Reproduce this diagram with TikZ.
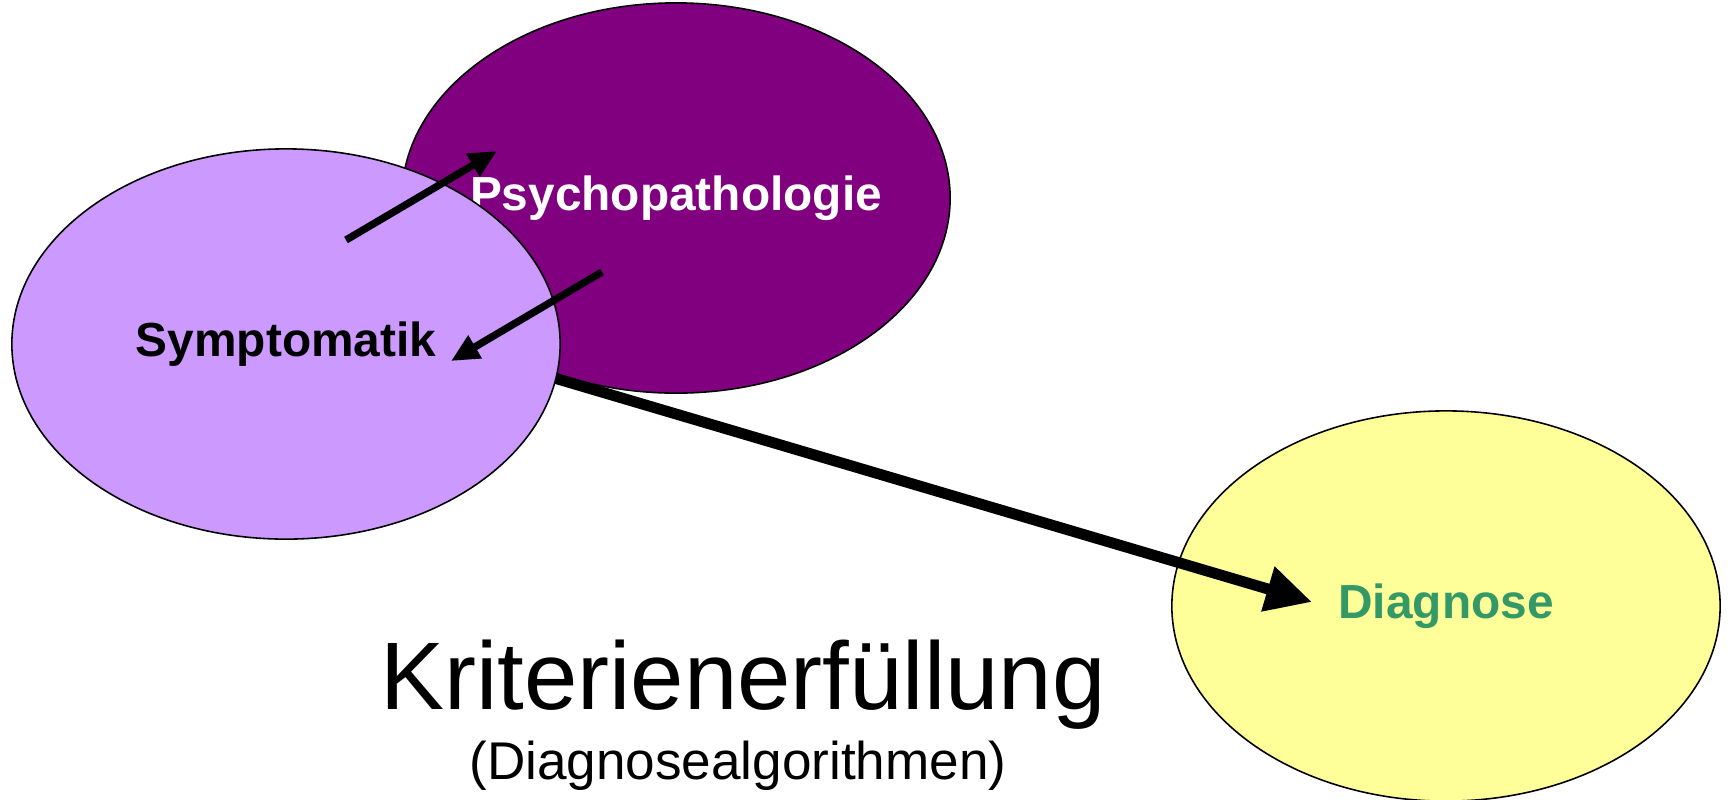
\documentclass[tikz,border=0pt]{standalone}
\usepackage{fontspec}
\setmainfont{Liberation Sans}
\usetikzlibrary{shapes.geometric,arrows.meta}
\definecolor{darkpurple}{HTML}{800080}
\definecolor{lightpurple}{HTML}{CC99FF}
\definecolor{paleyellow}{HTML}{FFFF99}
\definecolor{diaggreen}{HTML}{339966}
\tikzset{
  blob/.style={ellipse, draw=black, line width=0.45pt, inner sep=0pt,
    minimum width=5.48cm, minimum height=3.9cm, font=\fontsize{13.6}{16}\selectfont\bfseries},
  smallarrow/.style={line width=2.1pt, -{Triangle[length=0.28cm,width=0.25cm]}},
  bigarrow/.style={line width=3.1pt, -{Triangle[length=0.46cm,width=0.44cm]}}
}
\begin{document}
\begin{tikzpicture}[x=0.01cm,y=-0.01cm]
\useasboundingbox (0,0) rectangle (1732,799);
% coordinates
\coordinate (a1s) at (346,240);
\coordinate (a1e) at (497,151);
\coordinate (a2s) at (602,272);
\coordinate (a2e) at (451,361);
\coordinate (bs) at (490,359);
\coordinate (be) at (1312,602);
% ellipses
\node[blob, fill=darkpurple, text=white] (psy) at (676,198) {\makebox[0pt]{Psychopathologie}};
\node[blob, fill=paleyellow, text=diaggreen] (dia) at (1446,606) {\makebox[0pt]{Diagnose}};
\draw[bigarrow] (bs) -- (be);
\node[blob, fill=lightpurple, text=black] (sym) at (286,344) {\makebox[0pt]{Symptomatik}};
\draw[smallarrow] (a1s) -- (a1e);
\draw[smallarrow] (a2s) -- (a2e);
% captions
\node[anchor=base, inner sep=0pt, font=\fontsize{27.3}{32}\selectfont] (krit) at (743,709) {Kriterienerfüllung};
\node[anchor=base, inner sep=0pt, font=\fontsize{15.1}{18}\selectfont] (algo) at (738,779) {(Diagnosealgorithmen)};
\end{tikzpicture}
\end{document}
